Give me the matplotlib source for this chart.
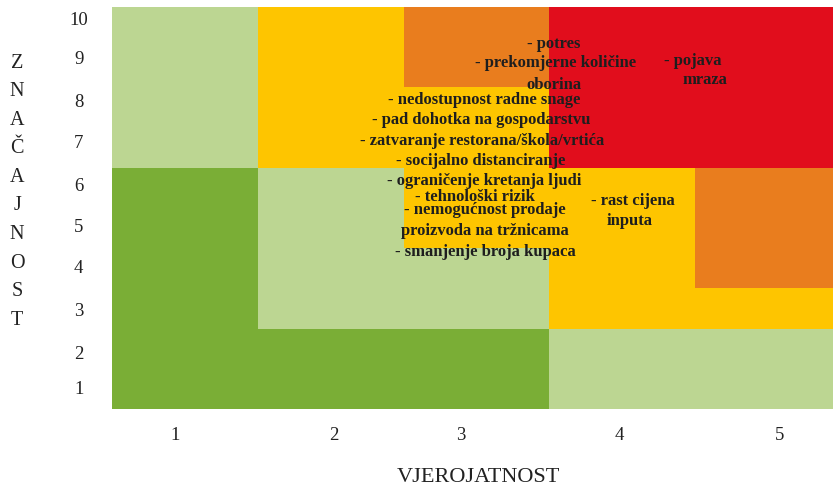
import matplotlib
matplotlib.use("Agg")
import matplotlib.pyplot as plt
import numpy as np
from matplotlib.colors import ListedColormap

# risk zone colours: 0 green, 1 light green, 2 yellow, 3 orange, 4 red
zone_colors = ["#7aae36", "#bcd692", "#fec500", "#e97d1e", "#e10d1c"]

# zone grid, rows from znacajnost 1 (bottom) to 10 (top), columns vjerojatnost 1..5
zones = [
    [0, 0, 0, 1, 1],  # 1
    [0, 0, 0, 1, 1],  # 2
    [0, 1, 1, 2, 2],  # 3
    [0, 1, 1, 2, 3],  # 4
    [0, 1, 2, 2, 3],  # 5
    [0, 1, 2, 2, 3],  # 6
    [1, 2, 2, 4, 4],  # 7
    [1, 2, 2, 4, 4],  # 8
    [1, 2, 3, 4, 4],  # 9
    [1, 2, 3, 4, 4],  # 10
]

x_ticks = ["1", "2", "3", "4", "5"]
y_ticks = ["1", "2", "3", "4", "5", "6", "7", "8", "9", "10"]
x_title = "VJEROJATNOST"
y_title = "ZNAČAJNOST"

risk_labels = [
    "- potres",
    "- prekomjerne količine",
    "oborina",
    "- pojava",
    "mraza",
    "- nedostupnost radne snage",
    "- pad dohotka na gospodarstvu",
    "- zatvaranje restorana/škola/vrtića",
    "- socijalno distanciranje",
    "- ograničenje kretanja ljudi",
    "- tehnološki rizik",
    "- nemogućnost prodaje",
    "proizvoda na tržnicama",
    "- smanjenje broja kupaca",
    "- rast cijena",
    "inputa",
]

# label centres (matrix coordinates)
label_pos = [
    (3.53, 9.60), (3.54, 9.12), (3.53, 8.58),
    (4.48, 9.18), (4.57, 8.71),
    (3.05, 8.22), (3.03, 7.72), (3.04, 7.19),
    (3.03, 6.70), (3.05, 6.19), (2.99, 5.81),
    (3.06, 5.47), (3.06, 4.96), (3.06, 4.44),
    (4.07, 5.70), (4.05, 5.20),
]

# tick label positions as placed in the original
x_tick_pos = [0.93, 2.02, 2.89, 3.98, 5.08]
y_tick_pos = [1.05, 1.94, 2.99, 4.08, 5.08, 6.12, 7.17, 8.21, 9.26, 10.25]

fig = plt.figure(figsize=(8.33, 4.89), dpi=100)
ax = fig.add_axes([112 / 833, 79 / 489, 729 / 833, 402 / 489])

grid = np.array(zones)
xe = np.arange(0.5, 6.0, 1.0)
ye = np.arange(0.5, 11.0, 1.0)
ax.pcolormesh(xe, ye, grid, cmap=ListedColormap(zone_colors), vmin=-0.5, vmax=4.5)
ax.set_xlim(0.5, 5.5)
ax.set_ylim(0.5, 10.5)

for s in ax.spines.values():
    s.set_visible(False)

serif = "Liberation Serif"
ax.set_xticks(x_tick_pos)
ax.set_xticklabels(x_ticks, fontfamily=serif, fontsize=13.5, color="#222222")
ax.set_yticks(y_tick_pos)
ax.set_yticklabels(y_ticks, fontfamily=serif, fontsize=13.5, color="#222222", ha="center")
ax.tick_params(axis="x", length=0, pad=12)
ax.tick_params(axis="y", length=0, pad=24)

for txt, (x, y) in zip(risk_labels, label_pos):
    ax.text(x, y, txt, ha="center", va="center", fontfamily=serif,
            fontweight="bold", fontsize=12, color="#1e1e1e")

fig.text(478 / 833, 1 - 478 / 489, x_title, ha="center", va="center",
         fontfamily=serif, fontsize=16, color="#222222")

for i, ch in enumerate(y_title):
    fig.text(17 / 833, 1 - (63 + i * 28.6) / 489, ch, ha="center", va="center",
             fontfamily=serif, fontsize=14.5, color="#222222")

fig.savefig("out.png", dpi=100)
